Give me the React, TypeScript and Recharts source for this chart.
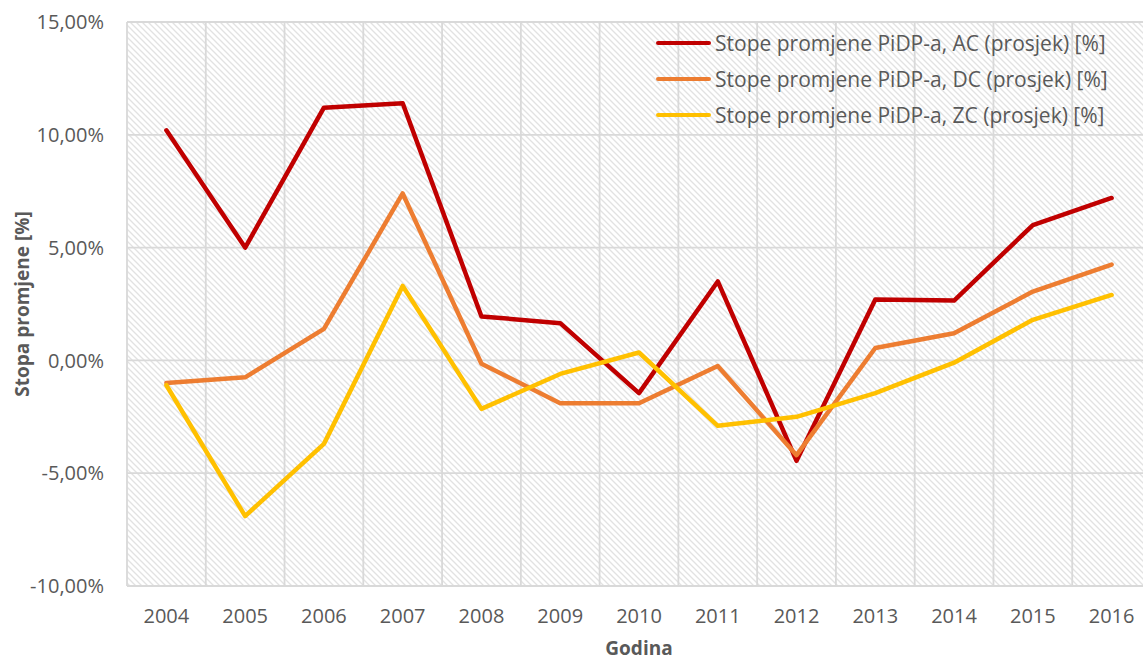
import { LineChart, Line, XAxis, YAxis, CartesianGrid, Legend } from "recharts"

const years = [2004, 2005, 2006, 2007, 2008, 2009, 2010, 2011, 2012, 2013, 2014, 2015, 2016]
const acValues = [10.2, 5.0, 11.2, 11.4, 1.95, 1.65, -1.45, 3.5, -4.45, 2.7, 2.65, 6.0, 7.2]
const dcValues = [-1.0, -0.75, 1.4, 7.4, -0.15, -1.9, -1.9, -0.25, -4.2, 0.55, 1.2, 3.05, 4.25]
const zcValues = [-1.1, -6.9, -3.7, 3.3, -2.15, -0.6, 0.35, -2.9, -2.5, -1.45, -0.1, 1.8, 2.9]
const yTicks = [-10, -5, 0, 5, 10, 15]

const seriesNames = [
  "Stope promjene PiDP-a, AC (prosjek) [%]",
  "Stope promjene PiDP-a, DC (prosjek) [%]",
  "Stope promjene PiDP-a, ZC (prosjek) [%]",
]
const seriesColors = ["#C00000", "#ED7D31", "#FFC000"]
const seriesKeys = ["ac", "dc", "zc"]

const data = years.map((year, i) => ({
  year,
  ac: acValues[i],
  dc: dcValues[i],
  zc: zcValues[i],
}))

// vertical grid lines at category centres and at the boundaries between them
const gridTicks = [...years.flatMap((y) => [y - 0.5, y]), years[years.length - 1] + 0.5]
const xDomain = [years[0] - 0.5, years[years.length - 1] + 0.5]

const textColor = "#595959"
const gridColor = "#d9d9d9"

const formatPct = (v: number) => v.toFixed(2).replace(".", ",") + "%"

const CustomLegend = () => (
  <div>
    {seriesNames.map((name, i) => (
      <div key={name} style={{ display: "flex", alignItems: "center", height: 36 }}>
        <span
          style={{
            display: "inline-block",
            width: 55,
            height: 4,
            borderRadius: 2,
            background: seriesColors[i],
            marginRight: 4,
          }}
        />
        <span style={{ color: textColor, fontSize: 21, whiteSpace: "nowrap" }}>{name}</span>
      </div>
    ))}
  </div>
)

export default function App() {
  return (
    <div
      style={{
        position: "absolute",
        left: 0,
        top: 0,
        width: 1143,
        height: 662,
        overflow: "hidden",
        background: "#fff",
        fontFamily: "'Open Sans', sans-serif",
      }}
    >
      <LineChart width={1170} height={662} data={data} margin={{ top: 22, right: 19, left: 0, bottom: 0 }}>
        <defs>
          <pattern id="hatch" patternUnits="userSpaceOnUse" width="6" height="6">
            <rect width="6" height="6" fill="#ffffff" />
            <path d="M-1,-1 L7,7 M-4,2 L2,8 M2,-4 L8,2" stroke="#e2e2e2" strokeWidth="1.3" />
          </pattern>
        </defs>
        <CartesianGrid
          xAxisId="grid"
          stroke={gridColor}
          strokeWidth={1.8}
          fill="url(#hatch)"
          fillOpacity={1}
        />
        <XAxis xAxisId="grid" type="number" dataKey="year" domain={xDomain} ticks={gridTicks} hide />
        <XAxis
          dataKey="year"
          type="number"
          domain={xDomain}
          ticks={years}
          interval={0}
          height={76}
          tickLine={false}
          tickSize={0}
          tickMargin={23}
          axisLine={{ stroke: gridColor, strokeWidth: 1.8 }}
          tick={{ fill: textColor, fontSize: 20 }}
          label={({ viewBox }: any) => (
            <text
              x={viewBox.x + viewBox.width / 2}
              y={655}
              textAnchor="middle"
              fill={textColor}
              fontSize={19}
              fontWeight="bold"
            >
              Godina
            </text>
          )}
        />
        <YAxis
          width={127}
          domain={[-10, 15]}
          ticks={yTicks}
          interval={0}
          tickLine={false}
          tickSize={0}
          tickMargin={23}
          axisLine={false}
          tickFormatter={formatPct}
          tick={{ fill: textColor, fontSize: 20 }}
          label={({ viewBox }: any) => {
            const cx = 22
            const cy = viewBox.y + viewBox.height / 2
            return (
              <text
                x={cx}
                y={cy}
                transform={`rotate(-90, ${cx}, ${cy})`}
                textAnchor="middle"
                dominantBaseline="central"
                fill={textColor}
                fontSize={19}
                fontWeight="bold"
              >
                Stopa promjene [%]
              </text>
            )
          }}
        />
        <Legend
          layout="vertical"
          align="center"
          verticalAlign="middle"
          content={<CustomLegend />}
          wrapperStyle={{ top: 25, left: 656, width: "auto" }}
        />
        {seriesKeys.map((key, i) => (
          <Line
            key={key}
            type="linear"
            dataKey={key}
            name={seriesNames[i]}
            stroke={seriesColors[i]}
            strokeWidth={4.5}
            strokeLinejoin="round"
            strokeLinecap="round"
            dot={false}
            activeDot={false}
            isAnimationActive={false}
          />
        ))}
      </LineChart>
    </div>
  )
}
